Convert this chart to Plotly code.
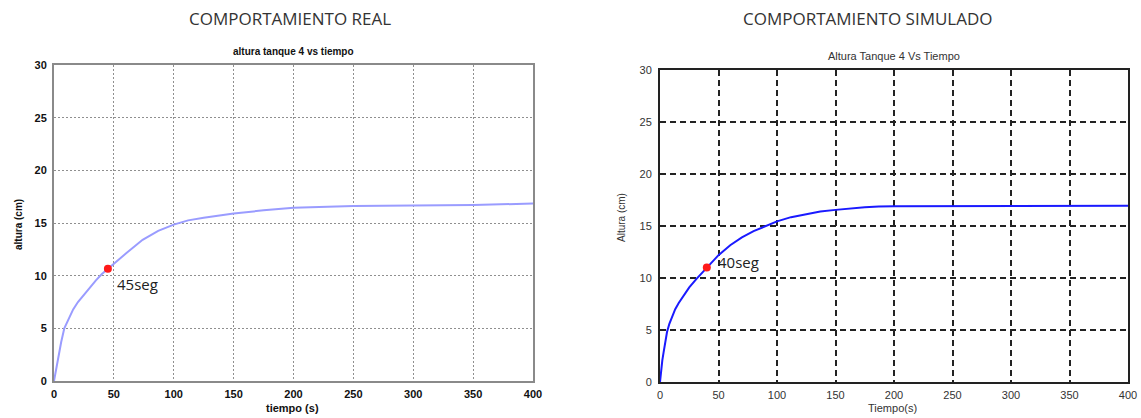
import plotly.graph_objects as go

# Real tank response (height in cm vs time in s)
t_real = [0, 2, 4, 6, 8.6, 12, 16, 20, 24, 30, 35, 40, 45, 50, 60, 74, 87, 100, 112, 125, 137,
          150, 175, 200, 250, 300, 350, 400]
h_real = [0, 1.3, 2.6, 3.7, 5.0, 5.9, 6.8, 7.5, 8.07, 8.9, 9.55, 10.15, 10.66, 11.17, 12.1, 13.4,
          14.25, 14.85, 15.25, 15.5, 15.72, 15.9, 16.2, 16.45, 16.62, 16.65, 16.7, 16.85]

# Simulated tank response
t_sim = [0, 1, 2, 3, 4.5, 6, 8, 10, 13, 16, 20, 25, 31, 40, 50, 60, 70, 80, 90, 100, 112, 125,
         137, 150, 162, 175, 187, 200, 400]
h_sim = [0, 1.3, 2.1, 2.8, 3.85, 4.8, 5.6, 6.2, 7.0, 7.6, 8.3, 9.1, 9.9, 11.0, 12.2, 13.15, 13.9,
         14.5, 15.0, 15.45, 15.85, 16.15, 16.4, 16.55, 16.7, 16.8, 16.87, 16.9, 16.95]

# Highlighted points (time, height) and their labels
real_pt = (45, 10.66)
sim_pt = (40, 11.0)
real_lbl = "45seg"
sim_lbl = "40seg"

x_ticks = [0, 50, 100, 150, 200, 250, 300, 350, 400]
y_ticks = [0, 5, 10, 15, 20, 25, 30]

W, H = 1141, 418


def px_x(p):
    return p / W


def px_y(p):
    return 1 - p / H


fig = go.Figure()

fig.add_trace(go.Scatter(x=t_real, y=h_real, mode="lines",
                         line=dict(color="#9a9cff", width=2),
                         xaxis="x", yaxis="y", hoverinfo="skip"))
fig.add_trace(go.Scatter(x=[real_pt[0]], y=[real_pt[1]], mode="markers",
                         marker=dict(color="#ff1a1a", size=8), xaxis="x", yaxis="y"))
fig.add_trace(go.Scatter(x=t_sim, y=h_sim, mode="lines",
                         line=dict(color="#1a1aff", width=2),
                         xaxis="x2", yaxis="y2", hoverinfo="skip"))
fig.add_trace(go.Scatter(x=[sim_pt[0]], y=[sim_pt[1]], mode="markers",
                         marker=dict(color="#ff1a1a", size=8), xaxis="x2", yaxis="y2"))

left_font = dict(family="Liberation Sans, Arial", size=11, color="#111111", weight="bold")
right_font = dict(family="Liberation Sans, Arial", size=11, color="#333333")

common_x = dict(range=[0, 400], tickvals=x_ticks, ticks="", showline=True, mirror=True,
                zeroline=False, showgrid=True, automargin=False)
common_y = dict(range=[0, 30], tickvals=y_ticks, ticks="", showline=True, mirror=True,
                zeroline=False, showgrid=True, automargin=False)

fig.update_layout(
    width=W, height=H, margin=dict(l=0, r=0, t=0, b=0),
    paper_bgcolor="white", plot_bgcolor="white", showlegend=False,
    xaxis=dict(common_x, domain=[px_x(54), px_x(533)], anchor="y",
               linecolor="#8a8a8a", linewidth=2, gridcolor="#8f8f8f", griddash="2px,2px", gridwidth=1,
               tickfont=left_font, ticklabelstandoff=2),
    yaxis=dict(common_y, domain=[px_y(381), px_y(65)], anchor="x",
               linecolor="#8a8a8a", linewidth=2, gridcolor="#8f8f8f", griddash="2px,2px", gridwidth=1,
               tickfont=left_font, ticklabelstandoff=3),
    xaxis2=dict(common_x, domain=[px_x(660), px_x(1128)], anchor="y2",
                linecolor="#222222", linewidth=2, gridcolor="#222222", griddash="6px,4px", gridwidth=1.5,
                tickfont=right_font, ticklabelstandoff=2),
    yaxis2=dict(common_y, domain=[px_y(382), px_y(70)], anchor="x2",
                linecolor="#222222", linewidth=2, gridcolor="#222222", griddash="6px,4px", gridwidth=1.5,
                tickfont=right_font, ticklabelstandoff=4),
)

head_font = dict(family="Open Sans", size=17, color="#333333")
anns = [
    dict(text="COMPORTAMIENTO REAL", x=px_x(290), y=px_y(18), font=head_font),
    dict(text="COMPORTAMIENTO SIMULADO", x=px_x(868), y=px_y(18), font=head_font),
    dict(text="altura tanque 4 vs tiempo", x=px_x(293), y=px_y(52),
         font=dict(family="Liberation Sans, Arial", size=10, color="#111111", weight="bold")),
    dict(text="Altura Tanque 4 Vs Tiempo", x=px_x(894), y=px_y(56),
         font=dict(family="Liberation Sans, Arial", size=11, color="#333333")),
    dict(text="tiempo (s)", x=px_x(292), y=px_y(408),
         font=dict(family="Liberation Sans, Arial", size=11, color="#111111", weight="bold")),
    dict(text="Tiempo(s)", x=px_x(892), y=px_y(408),
         font=dict(family="Liberation Sans, Arial", size=11, color="#333333")),
    dict(text="altura (cm)", x=px_x(18), y=px_y(225), textangle=-90,
         font=dict(family="Liberation Sans, Arial", size=10, color="#111111", weight="bold")),
    dict(text="Altura (cm)", x=px_x(622), y=px_y(218), textangle=-90,
         font=dict(family="Liberation Sans, Arial", size=10, color="#333333")),
]
for a in anns:
    fig.add_annotation(xref="paper", yref="paper", showarrow=False, xanchor="center", yanchor="middle", **a)

lbl_font = dict(family="Open Sans", size=15, color="#222222")
fig.add_annotation(x=real_pt[0], y=real_pt[1], xref="x", yref="y", text=real_lbl, showarrow=False,
                   xanchor="left", yanchor="top", xshift=7, yshift=-3, font=lbl_font)
fig.add_annotation(x=sim_pt[0], y=sim_pt[1], xref="x2", yref="y2", text=sim_lbl, showarrow=False,
                   xanchor="left", yanchor="bottom", xshift=9, yshift=-6, font=lbl_font)

fig.write_html("out.html")
